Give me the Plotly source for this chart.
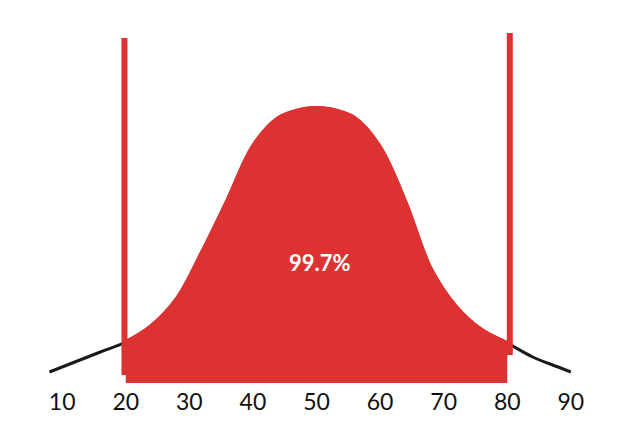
import plotly.graph_objects as go

# bell curve (x value, height above baseline)
curve_x = [8, 12, 16, 20, 24, 28, 32, 36, 40, 44, 48, 50, 52, 56, 60, 64, 68, 72, 76, 80, 84, 88, 90]
curve_y = [0, 10, 20, 30, 46, 73, 120, 172, 226, 254, 263, 264, 263, 254, 225, 170, 103, 65, 42, 29, 15, 5, 0]

# shaded interval and its bounds
band_lo = 20
band_hi = 80
band_label = "99.7%"
# the hand-drawn bound lines sit slightly off the tick marks
left_line_x = 19.8
right_line_x = 80.4
left_line_y = [-3, 334]
right_line_y = [17, 339]

tick_vals = [10, 20, 30, 40, 50, 60, 70, 80, 90]

RED = "#DC3232"

band_x = [x for x in curve_x if band_lo <= x <= band_hi]
band_y = [y for x, y in zip(curve_x, curve_y) if band_lo <= x <= band_hi]

fig = go.Figure()

fig.add_trace(go.Scatter(
    x=curve_x, y=curve_y, mode="lines",
    line=dict(color="#1a1a1a", width=3, shape="spline", smoothing=1.0),
    hoverinfo="skip"
))

# baseline a little below zero so the shading dips under the axis like the sketch
fig.add_trace(go.Scatter(
    x=band_x, y=[-11] * len(band_x), mode="lines",
    line=dict(width=0), hoverinfo="skip"
))
fig.add_trace(go.Scatter(
    x=band_x, y=band_y, mode="lines", fill="tonexty",
    fillcolor=RED, line=dict(color=RED, width=4, shape="spline"),
    hoverinfo="skip"
))

fig.add_trace(go.Scatter(
    x=[left_line_x, left_line_x], y=left_line_y, mode="lines",
    line=dict(color=RED, width=6), hoverinfo="skip"
))
fig.add_trace(go.Scatter(
    x=[right_line_x, right_line_x], y=right_line_y, mode="lines",
    line=dict(color=RED, width=6), hoverinfo="skip"
))

fig.add_annotation(
    x=50.5, y=110, text="<b>" + band_label + "</b>", showarrow=False,
    font=dict(family="Lato, sans-serif", size=22, color="white")
)

# page body adds 8px, so margins are shifted to line up with the sketch
fig.update_layout(
    width=636, height=441,
    margin=dict(l=16, r=35, t=19, b=65),
    paper_bgcolor="white", plot_bgcolor="white",
    showlegend=False,
    font=dict(family="Lato, sans-serif", size=23, color="#111"),
)
fig.update_xaxes(
    range=[4, 96], tickvals=tick_vals, showgrid=False, zeroline=False,
    showline=False, ticks="", ticklabelstandoff=2
)
fig.update_yaxes(range=[-12, 345], visible=False)

fig.write_html("out.html")
